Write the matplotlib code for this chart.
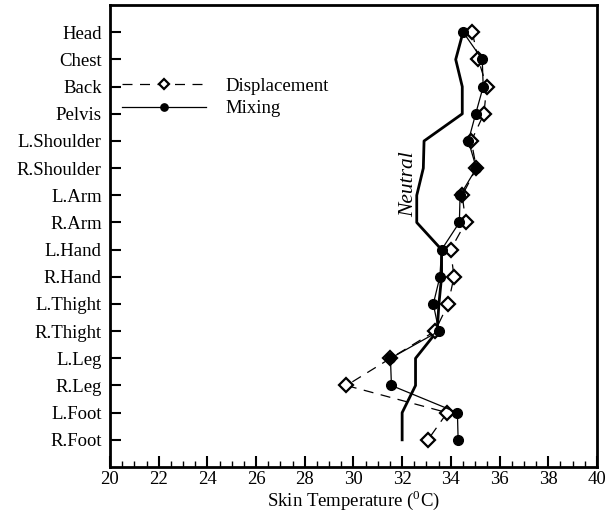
import matplotlib
matplotlib.use("Agg")
import matplotlib.pyplot as plt
from matplotlib.ticker import MultipleLocator

plt.rcParams['font.family'] = ['Liberation Serif', 'DejaVu Serif']
plt.rcParams['mathtext.fontset'] = 'custom'
plt.rcParams['mathtext.rm'] = 'Liberation Serif'

parts = ["Head", "Chest", "Back", "Pelvis", "L.Shoulder", "R.Shoulder",
         "L.Arm", "R.Arm", "L.Hand", "R.Hand", "L.Thight", "R.Thight",
         "L.Leg", "R.Leg", "L.Foot", "R.Foot"]

displacement = [34.88, 35.13, 35.47, 35.36, 34.84, 35.05, 34.47, 34.61,
                33.99, 34.13, 33.89, 33.35, 31.52, 29.71, 33.85, 33.06]
mixing = [34.51, 35.29, 35.33, 35.02, 34.72, 35.05, 34.38, 34.35,
          33.62, 33.55, 33.28, 33.51, 31.52, 31.56, 34.27, 34.30]
neutral = [34.50, 34.20, 34.47, 34.47, 32.90, 32.87, 32.60, 32.60,
           33.62, 33.62, 33.51, 33.44, 32.55, 32.55, 32.00, 32.00]

pos = list(range(len(parts)))
fs = 13.5

fig = plt.figure(figsize=(6.06, 5.15), dpi=100)
ax = fig.add_axes([0.1815, 0.0932, 0.8035, 0.8968])

ax.plot(neutral, pos, color='black', lw=2.0)
ax.plot(displacement, pos, color='black', lw=0.9, ls=(0, (8, 6)),
        marker='D', ms=7, mfc='white', mec='black', mew=1.6,
        label='Displacement')
ax.plot(mixing, pos, color='black', lw=0.9, marker='o', ms=7,
        mfc='black', mec='black', label='Mixing')

ax.text(32.28, 5.6, 'Neutral', rotation=90, style='italic', fontsize=15.5,
        ha='center', va='center')

ax.set_xlim(20, 40)
ax.set_ylim(16.0, -1.0)
ax.set_yticks(pos)
ax.set_yticklabels(parts)
ax.xaxis.set_major_locator(MultipleLocator(2))
ax.xaxis.set_minor_locator(MultipleLocator(0.5))
ax.tick_params(axis='both', which='major', direction='in', length=8,
               width=1.5, labelsize=fs)
ax.tick_params(axis='y', which='major', pad=6)
ax.tick_params(axis='x', which='minor', direction='in', length=4, width=1)
ax.tick_params(axis='x', which='major', pad=3)
for s in ax.spines.values():
    s.set_linewidth(2)

ax.set_xlabel('Skin Temperature ($^0$C)', fontsize=fs, labelpad=0)

ax.legend(loc='upper left', bbox_to_anchor=(-0.01, 0.88), frameon=False,
          fontsize=fs, handlelength=4.5, labelspacing=0.3,
          handletextpad=1.0, markerscale=0.75)

fig.savefig('out.png', dpi=100)
